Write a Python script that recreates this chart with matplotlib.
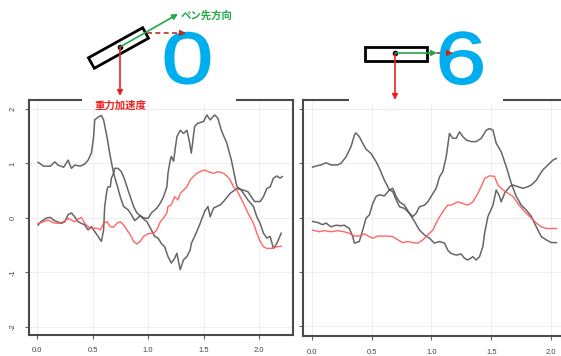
import numpy as np
import matplotlib
matplotlib.use("Agg")
import matplotlib.pyplot as plt
from matplotlib.patches import Polygon, Rectangle
from matplotlib import patheffects
from matplotlib.transforms import Affine2D

plt.rcParams['font.family'] = ['Liberation Sans', 'DejaVu Sans']

# ---- digit "0": accelerometer traces (time [s], value) ----
t0_a = [0.01, 0.06, 0.12, 0.16, 0.19, 0.24, 0.28, 0.31, 0.34, 0.39, 0.43, 0.46, 0.49, 0.51, 0.52,
        0.55, 0.58, 0.60, 0.63, 0.66, 0.69, 0.72, 0.75, 0.78, 0.82, 0.85, 0.88, 0.93, 0.96, 0.99,
        1.03, 1.06, 1.09, 1.12, 1.15, 1.18, 1.21, 1.24, 1.26, 1.29, 1.32, 1.35, 1.38, 1.39, 1.42,
        1.47, 1.51, 1.54, 1.56, 1.59, 1.62, 1.65, 1.68, 1.74, 1.80, 1.86, 1.90, 1.93, 1.96, 2.01,
        2.04, 2.07, 2.10, 2.13, 2.16, 2.19, 2.21]
v0_a = [1.02, 0.95, 0.95, 1.03, 0.97, 0.93, 1.06, 0.91, 0.97, 0.95, 0.99, 1.06, 1.19, 1.49, 1.80,
        1.85, 1.88, 1.80, 1.49, 1.13, 0.82, 0.61, 0.39, 0.21, 0.15, 0.06, -0.05, 0.04, -0.02, -0.07,
        -0.22, -0.34, -0.37, -0.47, -0.53, -0.71, -0.83, -0.74, -0.65, -0.95, -0.77, -0.71, -0.59, -0.47, -0.34,
        -0.10, 0.12, 0.21, 0.02, 0.18, 0.21, 0.24, 0.30, 0.45, 0.54, 0.51, 0.48, 0.39, 0.30, 0.30,
        0.39, 0.54, 0.57, 0.73, 0.77, 0.73, 0.76]

t0_b = [0.01, 0.04, 0.09, 0.12, 0.15, 0.18, 0.22, 0.25, 0.28, 0.31, 0.34, 0.37, 0.43, 0.46, 0.49,
        0.52, 0.55, 0.58, 0.60, 0.61, 0.63, 0.64, 0.66, 0.67, 0.69, 0.70, 0.73, 0.76, 0.79, 0.82,
        0.85, 0.87, 0.90, 0.93, 0.96, 1.00, 1.03, 1.08, 1.11, 1.14, 1.17, 1.18, 1.20, 1.21, 1.23,
        1.26, 1.29, 1.32, 1.35, 1.37, 1.39, 1.42, 1.45, 1.50, 1.53, 1.56, 1.60, 1.63, 1.66, 1.71,
        1.75, 1.80, 1.84, 1.90, 1.95, 1.98, 2.01, 2.04, 2.07, 2.10, 2.13, 2.16, 2.20]
v0_b = [-0.13, -0.06, 0.00, 0.01, -0.04, -0.07, -0.10, -0.07, 0.06, 0.09, 0.02, -0.07, -0.13, -0.22, -0.16,
        -0.25, -0.34, -0.43, -0.22, 0.21, 0.51, 0.57, 0.57, 0.73, 0.82, 0.91, 0.91, 0.85, 0.70, 0.51,
        0.33, 0.21, 0.09, 0.04, 0.00, -0.01, 0.09, 0.18, 0.27, 0.39, 0.57, 0.82, 1.06, 1.13, 1.04,
        1.49, 1.61, 1.55, 1.61, 1.43, 1.19, 1.68, 1.74, 1.77, 1.89, 1.80, 1.89, 1.83, 1.61, 1.37,
        1.07, 0.58, 0.51, 0.33, 0.21, 0.02, -0.10, -0.28, -0.37, -0.34, -0.56, -0.47, -0.28]

t0_g = [0.01, 0.06, 0.10, 0.15, 0.19, 0.24, 0.28, 0.31, 0.34, 0.37, 0.40, 0.43, 0.46, 0.49, 0.54,
        0.57, 0.60, 0.63, 0.66, 0.69, 0.72, 0.75, 0.78, 0.81, 0.84, 0.87, 0.90, 0.93, 0.96, 1.00,
        1.05, 1.08, 1.11, 1.14, 1.17, 1.18, 1.21, 1.24, 1.27, 1.29, 1.32, 1.35, 1.38, 1.41, 1.44,
        1.47, 1.51, 1.54, 1.59, 1.63, 1.68, 1.71, 1.74, 1.77, 1.80, 1.83, 1.86, 1.90, 1.95, 1.98,
        2.01, 2.04, 2.07, 2.11, 2.16, 2.20]
v0_g = [-0.10, -0.07, -0.04, -0.09, -0.10, -0.07, -0.01, -0.04, -0.07, -0.02, 0.01, -0.10, -0.16, -0.19, -0.19,
        -0.22, -0.10, -0.07, -0.16, -0.17, -0.10, -0.07, -0.13, -0.22, -0.31, -0.43, -0.48, -0.43, -0.34, -0.29,
        -0.28, -0.22, -0.07, 0.00, 0.09, 0.21, 0.24, 0.39, 0.33, 0.45, 0.51, 0.57, 0.70, 0.76, 0.82,
        0.85, 0.88, 0.85, 0.82, 0.85, 0.82, 0.77, 0.70, 0.57, 0.51, 0.39, 0.27, 0.09, -0.10, -0.28,
        -0.43, -0.53, -0.56, -0.56, -0.53, -0.52]

# ---- digit "6" ----
t6_a = [0.008, 0.036, 0.078, 0.12, 0.162, 0.217, 0.245, 0.287, 0.329, 0.357, 0.37, 0.398, 0.426, 0.454,
        0.496, 0.538, 0.565, 0.607, 0.649, 0.677, 0.705, 0.733, 0.774, 0.816, 0.858, 0.90, 0.942, 0.983,
        1.025, 1.067, 1.109, 1.136, 1.164, 1.206, 1.248, 1.276, 1.304, 1.345, 1.373, 1.401, 1.429, 1.443,
        1.471, 1.513, 1.54, 1.568, 1.582, 1.61, 1.652, 1.68, 1.721, 1.763, 1.805, 1.833, 1.875, 1.903,
        1.93, 1.972, 2.014, 2.042]
v6_a = [0.93, 0.95, 0.97, 1.01, 0.97, 0.97, 1.00, 1.12, 1.31, 1.52, 1.56, 1.49, 1.37, 1.26,
        1.18, 1.03, 0.91, 0.69, 0.51, 0.48, 0.33, 0.20, 0.17, 0.08, -0.07, -0.23, -0.32, -0.38,
        -0.47, -0.44, -0.47, -0.60, -0.66, -0.69, -0.67, -0.75, -0.78, -0.72, -0.78, -0.72, -0.53, -0.29,
        0.02, 0.23, 0.51, 0.39, 0.29, 0.45, 0.57, 0.60, 0.57, 0.54, 0.57, 0.60, 0.69, 0.79,
        0.88, 0.97, 1.06, 1.09]

t6_b = [0.008, 0.05, 0.092, 0.12, 0.162, 0.203, 0.245, 0.273, 0.315, 0.343, 0.357, 0.398, 0.426, 0.454,
        0.482, 0.51, 0.538, 0.565, 0.607, 0.649, 0.677, 0.705, 0.733, 0.774, 0.816, 0.844, 0.872, 0.90,
        0.942, 0.969, 0.997, 1.039, 1.067, 1.095, 1.123, 1.15, 1.178, 1.206, 1.234, 1.262, 1.29, 1.331,
        1.373, 1.415, 1.457, 1.485, 1.513, 1.54, 1.582, 1.624, 1.666, 1.707, 1.749, 1.791, 1.833, 1.875,
        1.916, 1.958, 2.0, 2.042]
v6_b = [-0.07, -0.09, -0.13, -0.10, -0.17, -0.14, -0.15, -0.14, -0.20, -0.35, -0.47, -0.44, -0.23, -0.01,
        0.05, 0.26, 0.39, 0.42, 0.40, 0.51, 0.54, 0.39, 0.29, 0.23, 0.08, 0.02, 0.08, 0.20,
        0.23, 0.29, 0.39, 0.54, 0.75, 0.85, 1.12, 1.55, 1.46, 1.46, 1.58, 1.49, 1.43, 1.40,
        1.40, 1.46, 1.61, 1.64, 1.61, 1.37, 1.21, 0.94, 0.63, 0.39, 0.23, 0.14, 0.02, -0.17,
        -0.35, -0.41, -0.46, -0.46]

t6_g = [0.008, 0.064, 0.106, 0.162, 0.217, 0.273, 0.315, 0.357, 0.398, 0.44, 0.482, 0.51, 0.552, 0.593,
        0.635, 0.677, 0.719, 0.76, 0.802, 0.844, 0.886, 0.928, 0.969, 1.011, 1.053, 1.095, 1.136, 1.164,
        1.192, 1.22, 1.262, 1.304, 1.345, 1.373, 1.415, 1.443, 1.485, 1.526, 1.554, 1.596, 1.638, 1.68,
        1.721, 1.777, 1.833, 1.875, 1.916, 1.958, 2.014, 2.042]
v6_g = [-0.23, -0.26, -0.24, -0.26, -0.24, -0.26, -0.29, -0.34, -0.34, -0.30, -0.35, -0.38, -0.34, -0.34,
        -0.34, -0.35, -0.41, -0.46, -0.44, -0.46, -0.47, -0.41, -0.32, -0.23, -0.04, 0.11, 0.23, 0.23,
        0.26, 0.29, 0.26, 0.23, 0.29, 0.39, 0.57, 0.72, 0.77, 0.76, 0.60, 0.51, 0.45, 0.39,
        0.26, 0.11, -0.01, -0.10, -0.17, -0.20, -0.20, -0.20]

x_ticks = [0.0, 0.5, 1.0, 1.5, 2.0]
x_ticklabels = ['0.0', '0.5', '1.0', '1.5', '2.0']
y_ticks = [-2, -1, 0, 1, 2]
y_ticklabels = ['-2', '-1', '0', '1', '2']

W, H = 561, 356
fig = plt.figure(figsize=(W / 100, H / 100), dpi=100)

GRAY = '#555555'
RED = '#ff5555'
FRAME = '#4a4a4a'


def style(ax, ylabels=True):
    ax.set_xlim(-0.072, 2.306)
    ax.set_ylim(-2.15, 2.165)
    ax.set_xticks(x_ticks)
    ax.set_xticklabels(x_ticklabels)
    ax.set_yticks(y_ticks)
    if ylabels:
        ax.set_yticklabels(y_ticklabels, rotation=90, va='center')
    else:
        ax.set_yticklabels([])
    ax.grid(True, color='#ececec', lw=0.6)
    ax.set_axisbelow(True)
    for s in ax.spines.values():
        s.set_color(FRAME)
        s.set_linewidth(1.5)
    ax.tick_params(direction='out', length=3, width=0.8, color='#666666',
                   labelsize=5.5, labelcolor='#444444', pad=6)


ax1 = fig.add_axes([29 / W, 21 / H, 264 / W, 235 / H])
style(ax1)
ax1.plot(t0_a, v0_a, color=GRAY, lw=1.1, alpha=0.9)
ax1.plot(t0_b, v0_b, color=GRAY, lw=1.1, alpha=0.9)
ax1.plot(t0_g, v0_g, color=RED, lw=1.0, alpha=0.9)

ax2 = fig.add_axes([303 / W, 20 / H, 285 / W, 236 / H])
style(ax2, ylabels=False)
ax2.set_ylim(-2.18, 2.166)
ax2.plot(t6_a, v6_a, color=GRAY, lw=1.1, alpha=0.9)
ax2.plot(t6_b, v6_b, color=GRAY, lw=1.1, alpha=0.9)
ax2.plot(t6_g, v6_g, color=RED, lw=1.0, alpha=0.9)

# ---- pen orientation sketches above each panel (pixel coordinates) ----
ov = fig.add_axes([0, 0, 1, 1], zorder=10)
ov.set_xlim(0, W)
ov.set_ylim(H, 0)
ov.axis('off')
ov.patch.set_alpha(0)

ov.add_patch(Rectangle((82, 0), 154, 103.5, fc='white', ec='none'))
ov.add_patch(Rectangle((349, 0), 154, 103.5, fc='white', ec='none'))

GREEN = '#22a84a'
ARED = '#f02020'
BROWN = '#b8321a'
BLUE = '#00aeef'


class WideGlyph(patheffects.AbstractPathEffect):
    """Widen a glyph horizontally about its own centre and give it a heavier stroke."""

    def __init__(self, sx, stroke=1.2):
        super().__init__()
        self.sx = sx
        self.stroke = stroke

    def draw_path(self, renderer, gc, tpath, affine, rgbFace=None):
        ext = tpath.get_extents(affine)
        cx = 0.5 * (ext.x0 + ext.x1)
        wide = affine + Affine2D().translate(-cx, 0).scale(self.sx, 1).translate(cx, 0)
        gc0 = renderer.new_gc()
        gc0.copy_properties(gc)
        gc0.set_linewidth(self.stroke)
        gc0.set_foreground(rgbFace)
        gc0.set_joinstyle('round')
        renderer.draw_path(gc0, tpath, wide, rgbFace)
        gc0.restore()


def pen(cx, cy, length, width, angle_deg):
    a = np.deg2rad(angle_deg)
    u = np.array([np.cos(a), -np.sin(a)])
    n = np.array([np.sin(a), np.cos(a)])
    c = np.array([cx, cy])
    pts = [c - u * length / 2 - n * width / 2, c + u * length / 2 - n * width / 2,
           c + u * length / 2 + n * width / 2, c - u * length / 2 + n * width / 2]
    ov.add_patch(Polygon(pts, closed=True, fill=False, ec='black', lw=2.0))


def arrow(p0, p1, color, ls='-'):
    if ls == '-':
        ov.annotate('', xy=p1, xytext=p0,
                    arrowprops=dict(arrowstyle='-|>', color=color, lw=1.2,
                                    mutation_scale=8, shrinkA=0, shrinkB=0))
    else:
        ov.plot([p0[0], p1[0] - 5], [p0[1], p1[1]], color=color, lw=1.2, ls=(0, (3, 2)))
        ov.annotate('', xy=p1, xytext=(p1[0] - 5, p1[1]),
                    arrowprops=dict(arrowstyle='-|>', color=color, lw=1.2,
                                    mutation_scale=8, shrinkA=0, shrinkB=0))


# digit 0 (pen tilted)
pen(118.5, 48, 62, 12, 29)
ov.text(187.5, 83, '0', color=BLUE, fontsize=52, ha='center', va='baseline',
        path_effects=[WideGlyph(1.28)])
arrow((147, 33), (186, 33), BROWN, ls='--')
arrow((120, 47), (178, 14), GREEN)
arrow((120, 47), (120, 96), ARED)
ov.plot([120], [47], 'o', color='black', ms=3)
ov.text(181, 16, 'ペン先方向', color=GREEN, fontsize=7.5, ha='left', va='center',
        family=['Noto Sans CJK JP', 'DejaVu Sans'], fontweight='bold')
ov.text(120, 106, '重力加速度', color=ARED, fontsize=7.5, ha='center', va='center',
        family=['Noto Sans CJK JP', 'DejaVu Sans'], fontweight='bold')

# digit 6 (pen horizontal)
ov.text(461, 83.5, '6', color=BLUE, fontsize=53, ha='center', va='baseline',
        path_effects=[WideGlyph(1.23)])
pen(395.8, 53.8, 62, 14, 0)
arrow((428, 53), (453, 53), BROWN, ls='--')
arrow((395, 53), (437, 53), GREEN)
arrow((395, 54), (395, 100), ARED)
ov.plot([395], [53], 'o', color='black', ms=3)

fig.savefig('out.png', dpi=100)
